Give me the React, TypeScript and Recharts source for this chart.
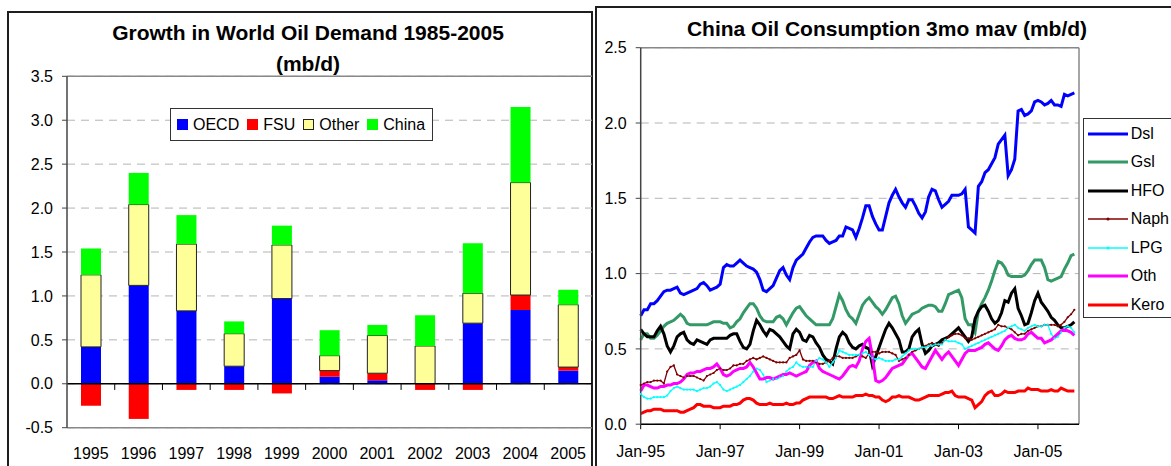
import React from 'react'
import { Bar, BarChart, CartesianGrid, Legend, Line, LineChart, ReferenceLine, XAxis, YAxis } from 'recharts'

const FONT = 'Arial, "Liberation Sans", Helvetica, sans-serif'

// ---- left chart: growth in world oil demand (mb/d)
const years = ['1995', '1996', '1997', '1998', '1999', '2000', '2001', '2002', '2003', '2004', '2005']
const oecd = [0.42, 1.12, 0.83, 0.2, 0.97, 0.08, 0.04, 0.0, 0.69, 0.84, 0.15]
const fsu = [-0.25, -0.4, -0.07, -0.07, -0.11, 0.07, 0.08, -0.07, -0.07, 0.17, 0.04]
const other = [0.82, 0.92, 0.76, 0.37, 0.61, 0.17, 0.43, 0.43, 0.34, 1.28, 0.71]
const china = [0.3, 0.36, 0.33, 0.14, 0.22, 0.29, 0.12, 0.35, 0.57, 0.86, 0.17]
const demandTicks = [-0.5, 0, 0.5, 1, 1.5, 2, 2.5, 3, 3.5]

// ---- right chart: China oil consumption 3mo mav, monthly from Jan-95
const monthTicks = [0, 24, 48, 72, 96, 120]
const monthTickLabels = ['Jan-95', 'Jan-97', 'Jan-99', 'Jan-01', 'Jan-03', 'Jan-05']
const consumptionTicks = [0, 0.5, 1, 1.5, 2, 2.5]

const dsl = [
  0.72, 0.76, 0.76, 0.8, 0.8, 0.82, 0.85, 0.88, 0.89, 0.89, 0.9, 0.91,
  0.87, 0.86, 0.87, 0.88, 0.89, 0.9, 0.93, 0.94, 0.92, 0.89, 0.9, 0.91,
  0.93, 1.04, 1.06, 1.05, 1.05, 1.07, 1.09, 1.07, 1.05, 1.04, 1.03, 1.01,
  0.96, 0.89, 0.88, 0.9, 0.92, 0.97, 1.02, 1.04, 0.99, 0.96, 1.04, 1.09,
  1.11, 1.13, 1.17, 1.21, 1.24, 1.25, 1.25, 1.25, 1.22, 1.2, 1.21, 1.22,
  1.25, 1.25, 1.31, 1.3, 1.29, 1.24, 1.3, 1.37, 1.45, 1.45, 1.38, 1.33,
  1.29, 1.29, 1.38, 1.47, 1.52, 1.56, 1.51, 1.47, 1.44, 1.49, 1.49, 1.45,
  1.4, 1.37, 1.41, 1.51, 1.56, 1.55, 1.49, 1.44, 1.46, 1.48, 1.52, 1.52,
  1.52, 1.53, 1.56, 1.31, 1.29, 1.27, 1.58, 1.61, 1.67, 1.69, 1.73, 1.77,
  1.86, 1.89, 1.92, 1.65, 1.69, 1.76, 2.08, 2.09, 2.05, 2.06, 2.08, 2.14,
  2.15, 2.14, 2.12, 2.13, 2.15, 2.12, 2.12, 2.11, 2.19, 2.18, 2.19, 2.2,
]
const gsl = [
  0.56, 0.6, 0.6, 0.57, 0.57, 0.59, 0.62, 0.65, 0.67, 0.68, 0.69, 0.71,
  0.73, 0.71, 0.67, 0.66, 0.66, 0.66, 0.66, 0.66, 0.66, 0.67, 0.68, 0.68,
  0.68, 0.67, 0.67, 0.64, 0.65, 0.68, 0.7, 0.74, 0.77, 0.8, 0.8, 0.77,
  0.72, 0.69, 0.68, 0.68, 0.68, 0.71, 0.72, 0.7, 0.66, 0.7, 0.74, 0.77,
  0.78, 0.75, 0.72, 0.7, 0.68, 0.66, 0.66, 0.66, 0.66, 0.66, 0.7, 0.78,
  0.86, 0.82, 0.76, 0.72, 0.7, 0.67, 0.73, 0.79, 0.82, 0.84, 0.81, 0.78,
  0.76, 0.73, 0.76, 0.8, 0.84, 0.85, 0.8, 0.72, 0.67, 0.7, 0.73, 0.74,
  0.75, 0.77, 0.78, 0.79, 0.79, 0.78, 0.75, 0.75, 0.8, 0.86, 0.87, 0.88,
  0.89, 0.84, 0.7, 0.66, 0.66, 0.61, 0.75, 0.8, 0.84, 0.89, 0.95, 1.02,
  1.08, 1.07, 1.04, 0.99, 0.98, 0.98, 0.98, 0.98, 0.99, 1.02, 1.06, 1.09,
  1.09, 1.09, 1.04, 0.96, 0.95, 0.96, 0.97, 0.98, 1.03, 1.07, 1.12, 1.13,
]
const hfo = [
  0.63, 0.6, 0.58, 0.58, 0.58, 0.62, 0.65, 0.6, 0.52, 0.48, 0.52, 0.58,
  0.6, 0.61, 0.56, 0.54, 0.53, 0.56, 0.55, 0.54, 0.53, 0.56, 0.57, 0.57,
  0.57, 0.57, 0.57, 0.59, 0.6, 0.6, 0.55, 0.51, 0.5, 0.53, 0.62, 0.69,
  0.66, 0.62, 0.59, 0.63, 0.62, 0.6, 0.58, 0.55, 0.52, 0.5, 0.6, 0.63,
  0.61, 0.56, 0.55, 0.59, 0.58, 0.54, 0.51, 0.46, 0.43, 0.42, 0.4, 0.5,
  0.58, 0.61, 0.59, 0.54, 0.51, 0.5, 0.52, 0.53, 0.51, 0.5, 0.39, 0.45,
  0.51, 0.57, 0.63, 0.67, 0.64, 0.6, 0.56, 0.48, 0.48, 0.5, 0.58, 0.61,
  0.63, 0.53, 0.47, 0.49, 0.52, 0.53, 0.54, 0.56, 0.57, 0.58, 0.6, 0.62,
  0.64, 0.61, 0.58, 0.55, 0.58, 0.7, 0.75, 0.78, 0.79, 0.75, 0.7, 0.67,
  0.69, 0.74, 0.82, 0.81, 0.87, 0.9, 0.77, 0.72, 0.66, 0.67, 0.74, 0.82,
  0.87, 0.81, 0.78, 0.75, 0.71, 0.69, 0.66, 0.64, 0.64, 0.65, 0.66, 0.68,
]
const naph = [
  0.26, 0.27, 0.28, 0.28, 0.29, 0.29, 0.29, 0.27, 0.35, 0.38, 0.39, 0.33,
  0.32, 0.31, 0.32, 0.32, 0.32, 0.31, 0.3, 0.29, 0.32, 0.33, 0.34, 0.36,
  0.37, 0.36, 0.36, 0.37, 0.39, 0.39, 0.4, 0.4, 0.42, 0.43, 0.44, 0.43,
  0.44, 0.45, 0.44, 0.43, 0.42, 0.41, 0.41, 0.41, 0.41, 0.44, 0.45, 0.46,
  0.49, 0.43, 0.42, 0.42, 0.42, 0.41, 0.4, 0.4, 0.41, 0.42, 0.44, 0.45,
  0.45, 0.44, 0.44, 0.44, 0.44, 0.45, 0.46, 0.45, 0.44, 0.47, 0.48, 0.48,
  0.47, 0.48, 0.48, 0.48, 0.47, 0.46, 0.42, 0.43, 0.44, 0.46, 0.48, 0.49,
  0.5, 0.51, 0.52, 0.53, 0.54, 0.53, 0.52, 0.54, 0.56, 0.58, 0.59, 0.6,
  0.6, 0.59, 0.57, 0.57, 0.56, 0.57, 0.58, 0.59, 0.6, 0.61, 0.62, 0.63,
  0.66, 0.65, 0.65, 0.64, 0.63, 0.61, 0.59, 0.6, 0.6, 0.62, 0.63, 0.64,
  0.65, 0.65, 0.66, 0.66, 0.66, 0.66, 0.65, 0.66, 0.68, 0.71, 0.73, 0.76,
]
const lpg = [
  0.2, 0.18, 0.17, 0.17, 0.18, 0.18, 0.18, 0.18, 0.19, 0.22, 0.24, 0.25,
  0.24, 0.23, 0.23, 0.23, 0.23, 0.22, 0.23, 0.24, 0.24, 0.25, 0.27, 0.28,
  0.26, 0.23, 0.22, 0.23, 0.24, 0.25, 0.26, 0.28, 0.3, 0.32, 0.35, 0.37,
  0.36, 0.33, 0.28, 0.29, 0.3, 0.3, 0.31, 0.32, 0.35, 0.37, 0.38, 0.41,
  0.39, 0.38, 0.38, 0.38, 0.38, 0.42, 0.44, 0.43, 0.41, 0.38, 0.41, 0.44,
  0.49, 0.48, 0.47, 0.46, 0.46, 0.46, 0.46, 0.47, 0.48, 0.46, 0.44, 0.43,
  0.44, 0.43, 0.42, 0.42, 0.42, 0.43, 0.43, 0.45, 0.47, 0.49, 0.5, 0.5,
  0.5, 0.51, 0.51, 0.52, 0.52, 0.53, 0.53, 0.53, 0.56, 0.55, 0.55, 0.55,
  0.54, 0.53, 0.5, 0.51, 0.52, 0.53, 0.54, 0.55, 0.56, 0.57, 0.58, 0.59,
  0.6, 0.61, 0.62, 0.64, 0.65, 0.66, 0.64, 0.63, 0.62, 0.64, 0.65, 0.66,
  0.65, 0.65, 0.66, 0.66, 0.6, 0.57, 0.58, 0.61, 0.64, 0.65, 0.64, 0.61,
]
const oth = [
  0.22, 0.26, 0.26, 0.25, 0.24, 0.24, 0.25, 0.25, 0.26, 0.26, 0.27, 0.27,
  0.28, 0.3, 0.33, 0.34, 0.34, 0.35, 0.35, 0.36, 0.37, 0.37, 0.38, 0.4,
  0.37, 0.33, 0.32, 0.33, 0.35, 0.36, 0.37, 0.37, 0.38, 0.41, 0.38, 0.34,
  0.3, 0.3, 0.31, 0.31, 0.3, 0.31, 0.32, 0.33, 0.33, 0.34, 0.33, 0.32,
  0.33, 0.34, 0.35, 0.39, 0.41, 0.42, 0.37, 0.35, 0.34, 0.33, 0.32, 0.31,
  0.3, 0.32, 0.35, 0.38, 0.39, 0.38, 0.42, 0.5, 0.55, 0.57, 0.45, 0.29,
  0.28, 0.29, 0.31, 0.34, 0.37, 0.38, 0.39, 0.4, 0.43, 0.46, 0.47, 0.44,
  0.41, 0.38, 0.37, 0.41, 0.45, 0.49, 0.46, 0.43, 0.46, 0.48, 0.45, 0.42,
  0.39, 0.43, 0.47, 0.49, 0.49, 0.49, 0.5, 0.51, 0.53, 0.54, 0.52, 0.5,
  0.49, 0.52, 0.56, 0.58, 0.59, 0.57, 0.56, 0.56, 0.57, 0.6, 0.61, 0.59,
  0.57, 0.57, 0.54, 0.55, 0.56, 0.58, 0.6, 0.62, 0.63, 0.62, 0.61, 0.59,
]
const kero = [
  0.07, 0.08, 0.09, 0.09, 0.1, 0.1, 0.1, 0.09, 0.09, 0.09, 0.09, 0.09,
  0.08, 0.08, 0.09, 0.1, 0.11, 0.13, 0.13, 0.12, 0.12, 0.12, 0.11, 0.11,
  0.11, 0.12, 0.12, 0.12, 0.13, 0.13, 0.14, 0.16, 0.17, 0.17, 0.16, 0.14,
  0.13, 0.13, 0.13, 0.14, 0.13, 0.13, 0.13, 0.13, 0.14, 0.13, 0.13, 0.14,
  0.14, 0.16, 0.17, 0.18, 0.18, 0.18, 0.18, 0.18, 0.18, 0.17, 0.17, 0.18,
  0.19, 0.18, 0.18, 0.18, 0.18, 0.19, 0.19, 0.19, 0.2, 0.19, 0.19, 0.18,
  0.18, 0.16, 0.15, 0.16, 0.18, 0.18, 0.19, 0.18, 0.18, 0.18, 0.17, 0.16,
  0.16, 0.17, 0.18, 0.19, 0.19, 0.19, 0.19, 0.2, 0.21, 0.21, 0.22, 0.19,
  0.18, 0.18, 0.18, 0.17, 0.16, 0.11, 0.13, 0.15, 0.19, 0.21, 0.22, 0.19,
  0.19, 0.2, 0.22, 0.21, 0.21, 0.21, 0.22, 0.22, 0.22, 0.24, 0.23, 0.23,
  0.23, 0.22, 0.22, 0.22, 0.23, 0.22, 0.22, 0.24, 0.23, 0.22, 0.22, 0.22,
]

const demandRows = years.map((year, i) => ({
  year,
  oecd: oecd[i],
  fsu: fsu[i],
  other: other[i],
  china: china[i],
}))

const consumptionRows = dsl.map((v, i) => ({
  m: i,
  dsl: v,
  gsl: gsl[i],
  hfo: hfo[i],
  naph: naph[i],
  lpg: lpg[i],
  oth: oth[i],
  kero: kero[i],
}))

const barSeries = [
  { key: 'oecd', name: 'OECD', fill: '#0000FF', stroke: 'none' },
  { key: 'fsu', name: 'FSU', fill: '#FF0000', stroke: 'none' },
  { key: 'other', name: 'Other', fill: '#FFFF99', stroke: '#222' },
  { key: 'china', name: 'China', fill: '#00FF00', stroke: 'none' },
]

const lineSeries = [
  { key: 'dsl', name: 'Dsl', color: '#0000FF', width: 3, marker: false },
  { key: 'gsl', name: 'Gsl', color: '#339966', width: 3, marker: false },
  { key: 'hfo', name: 'HFO', color: '#000000', width: 3, marker: false },
  { key: 'naph', name: 'Naph', color: '#800000', width: 1.3, marker: true },
  { key: 'lpg', name: 'LPG', color: '#00FFFF', width: 1.3, marker: true },
  { key: 'oth', name: 'Oth', color: '#FF00FF', width: 3, marker: false },
  { key: 'kero', name: 'Kero', color: '#FF0000', width: 3, marker: false },
]

const tickStyle = { fill: '#000', fontSize: 16, fontFamily: FONT }
const titleStyle: React.CSSProperties = {
  position: 'absolute',
  width: 600,
  textAlign: 'center',
  fontFamily: FONT,
  fontWeight: 'bold',
  fontSize: 21,
  lineHeight: '31px',
  color: '#000',
}

const DemandLegend = () => (
  <div
    style={{
      width: 263,
      height: 33,
      boxSizing: 'border-box',
      border: '1.5px solid #333',
      background: '#fff',
      display: 'flex',
      alignItems: 'center',
      paddingLeft: 6,
      fontFamily: FONT,
      fontSize: 16,
      color: '#000',
    }}
  >
    {barSeries.map((s) => (
      <div key={s.key} style={{ display: 'flex', alignItems: 'center', marginRight: 8 }}>
        <span
          style={{
            width: 11,
            height: 11,
            boxSizing: 'border-box',
            background: s.fill,
            border: s.stroke === 'none' ? 'none' : '1px solid #222',
            marginRight: 5,
          }}
        />
        <span>{s.name}</span>
      </div>
    ))}
  </div>
)

const ConsumptionLegend = () => (
  <div
    style={{
      width: 110,
      height: 200,
      boxSizing: 'border-box',
      border: '1.5px solid #333',
      background: '#fff',
      paddingTop: 1,
      paddingLeft: 4,
      fontFamily: FONT,
      fontSize: 16,
      color: '#000',
    }}
  >
    {lineSeries.map((s) => (
      <div key={s.key} style={{ display: 'flex', alignItems: 'center', height: 28.5 }}>
        <svg width={40} height={10} style={{ marginRight: 3 }}>
          <line x1={0} y1={5} x2={40} y2={5} stroke={s.color} strokeWidth={s.width} />
          {s.marker && <circle cx={20} cy={5} r={1.6} fill={s.color} />}
        </svg>
        <span>{s.name}</span>
      </div>
    ))}
  </div>
)

function DemandChart() {
  return (
    <BarChart
      width={593}
      height={466}
      data={demandRows}
      stackOffset="sign"
      barSize={20}
      margin={{ top: 76.3, right: 1, bottom: 8.3, left: 0 }}
      style={{ position: 'absolute', left: 0, top: 0 }}
    >
      <CartesianGrid vertical={false} stroke="#b4b4b4" strokeDasharray="8 6" />
      <XAxis
        dataKey="year"
        axisLine={false}
        tickLine={false}
        tickSize={0}
        tickMargin={20}
        height={30}
        interval={0}
        tick={tickStyle}
      />
      <YAxis
        type="number"
        domain={[-0.5, 3.5]}
        ticks={demandTicks}
        interval={0}
        width={67}
        tickSize={5}
        tickMargin={9}
        tickFormatter={(v: number) => v.toFixed(1)}
        axisLine={{ stroke: '#444', strokeWidth: 1.5 }}
        tickLine={{ stroke: '#444' }}
        tick={tickStyle}
      />
      <Legend
        layout="horizontal"
        verticalAlign="middle"
        align="center"
        wrapperStyle={{ left: 170, top: 108, width: 'auto', height: 'auto' }}
        content={() => <DemandLegend />}
      />
      {barSeries.map((s) => (
        <Bar
          key={s.key}
          dataKey={s.key}
          name={s.name}
          stackId="a"
          fill={s.fill}
          stroke={s.stroke}
          strokeWidth={1}
          isAnimationActive={false}
        />
      ))}
      <ReferenceLine y={3.5} stroke="#888" strokeWidth={1.5} />
      <ReferenceLine y={-0.5} stroke="#888" strokeWidth={1.5} />
      <ReferenceLine y={0} stroke="#000" strokeWidth={1.5} />
      {years.slice(1).map((y) => (
        <ReferenceLine
          key={y}
          position="start"
          segment={[
            { x: y, y: 0 },
            { x: y, y: -0.07 },
          ]}
          stroke="#000"
          strokeWidth={1}
        />
      ))}
    </BarChart>
  )
}

function ConsumptionChart() {
  return (
    <LineChart
      width={576}
      height={466}
      data={consumptionRows}
      margin={{ top: 47.7, right: 92, bottom: 7.8, left: 0 }}
      style={{ position: 'absolute', left: 595, top: 0 }}
    >
      <CartesianGrid vertical={false} stroke="#b4b4b4" strokeDasharray="8 6" />
      <XAxis
        type="number"
        dataKey="m"
        domain={[0, 132.4]}
        ticks={monthTicks}
        interval={0}
        height={34}
        tickSize={5}
        tickMargin={16}
        tickFormatter={(v: number) => monthTickLabels[monthTicks.indexOf(v)]}
        axisLine={{ stroke: '#000', strokeWidth: 1.5 }}
        tickLine={{ stroke: '#000' }}
        tick={tickStyle}
      />
      <YAxis
        type="number"
        domain={[0, 2.5]}
        ticks={consumptionTicks}
        interval={0}
        width={45.7}
        tickSize={5}
        tickMargin={9}
        tickFormatter={(v: number) => v.toFixed(1)}
        axisLine={{ stroke: '#444', strokeWidth: 1.5 }}
        tickLine={{ stroke: '#444' }}
        tick={tickStyle}
      />
      <ReferenceLine y={2.5} stroke="#888" strokeWidth={1.5} />
      <ReferenceLine x={132.4} stroke="#888" strokeWidth={1.5} />
      <Legend
        layout="horizontal"
        verticalAlign="middle"
        align="center"
        wrapperStyle={{ left: 487.7, top: 117.7, width: 'auto', height: 'auto' }}
        content={() => <ConsumptionLegend />}
      />
      {lineSeries.map((s) => (
        <Line
          key={s.key}
          type="linear"
          dataKey={s.key}
          name={s.name}
          stroke={s.color}
          strokeWidth={s.width}
          dot={s.marker ? { r: 1.1, fill: s.color, stroke: 'none' } : false}
          activeDot={false}
          isAnimationActive={false}
        />
      ))}
    </LineChart>
  )
}

export default function App() {
  return (
    <div
      style={{
        position: 'absolute',
        left: 0,
        top: 0,
        width: 1171,
        height: 466,
        overflow: 'hidden',
        background: '#fff',
      }}
    >
      {/* panel frames */}
      <div
        style={{
          position: 'absolute',
          left: 7,
          top: 11,
          width: 586,
          height: 470,
          boxSizing: 'border-box',
          border: '2px solid #1e1e1e',
        }}
      />
      <div
        style={{
          position: 'absolute',
          left: 595,
          top: 6,
          width: 600,
          height: 470,
          boxSizing: 'border-box',
          border: '2px solid #1e1e1e',
        }}
      />
      <div style={{ ...titleStyle, left: 8, top: 16.5 }}>
        Growth in World Oil Demand 1985-2005
        <br />
        (mb/d)
      </div>
      <div style={{ ...titleStyle, left: 587, top: 12.5 }}>China Oil Consumption 3mo mav (mb/d)</div>
      <DemandChart />
      <ConsumptionChart />
    </div>
  )
}
